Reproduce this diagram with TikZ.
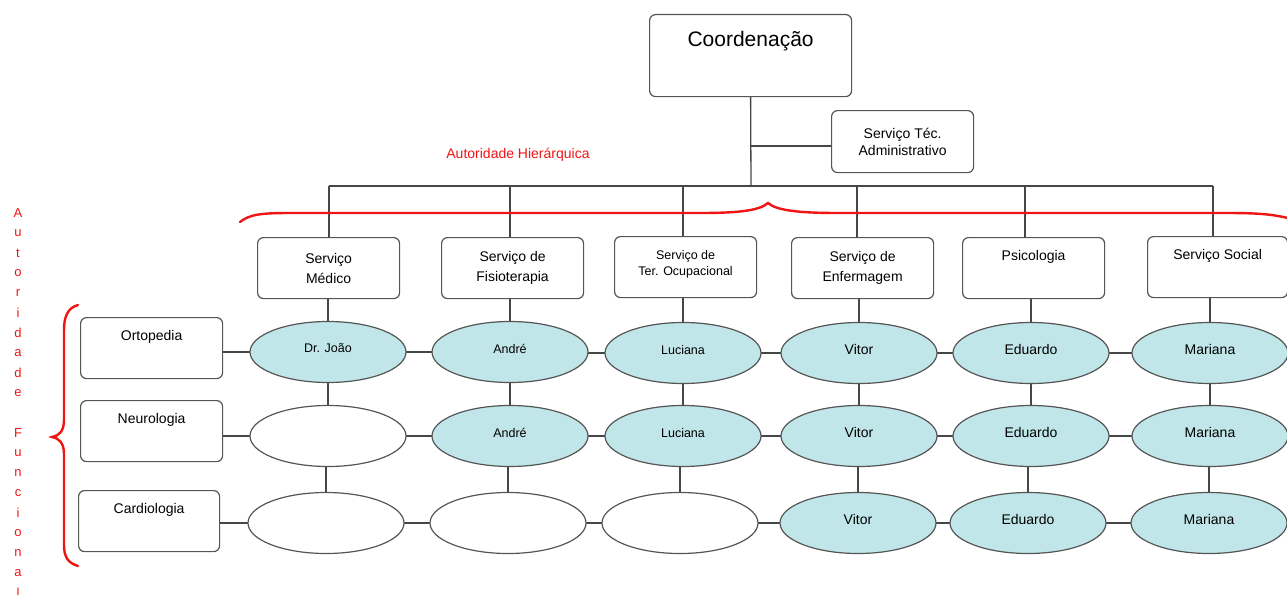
\documentclass[tikz,border=0pt]{standalone}
\usepackage{fontspec}
\setmainfont{Liberation Sans}
\usetikzlibrary{shapes.geometric,backgrounds}
\definecolor{ln}{RGB}{70,70,70}
\definecolor{bx}{RGB}{85,85,85}
\definecolor{cy}{RGB}{192,230,233}
\definecolor{rd}{RGB}{240,20,20}
\tikzset{
  box/.style={draw=bx, line width=1.2pt, rounded corners=6pt, fill=white, minimum width=142pt, minimum height=61pt, inner sep=0pt, align=center, anchor=north west, font=\fontsize{14}{20}\selectfont},
  pers/.style={ellipse, draw=bx, line width=1.2pt, minimum width=156pt, minimum height=61pt, inner sep=0pt, font=\fontsize{12.5}{14}\selectfont},
  on/.style={pers, fill=cy},
  big/.style={font=\fontsize{14}{16}\selectfont},
  off/.style={pers, fill=white},
  conn/.style={draw=ln, line width=1.3pt},
  brace/.style={draw=rd, line width=2.4pt, line cap=round},
  redtxt/.style={text=rd, inner sep=0pt, font=\fontsize{14}{16}\selectfont},
}
\begin{document}
\begin{tikzpicture}[x=1pt,y=-1pt]
\useasboundingbox (0,0) rectangle (1287,594);
\coordinate (tadm) at (751,146);
\coordinate (tbus) at (751,186);
\coordinate (bl) at (329,186);
\coordinate (br) at (1213,186);
% top nodes
\node[box, minimum width=202pt, minimum height=82pt, font=\fontsize{21}{26}\selectfont] (coord) at (649,14) {Coordenação\\\strut};
\node[box, minimum width=142pt, minimum height=62pt, font=\fontsize{14}{17}\selectfont] (adm) at (831,110) {\raisebox{-2pt}{Serviço Téc.}\\\raisebox{-2pt}{Administrativo}};
% service boxes
\node[box] (s1) at (257,237) {Serviço\\Médico};
\node[box] (s2) at (441,237) {Serviço de\\Fisioterapia};
\node[box, font=\fontsize{12.5}{16}\selectfont] (s3) at (614,236) {Serviço de\\Ter. Ocupacional\\[-8pt]\mbox{}};
\node[box] (s4) at (791,237) {Serviço de\\Enfermagem};
\node[box] (s5) at (962,237) {Psicologia\\\strut};
\node[box, minimum width=140pt] (s6) at (1147,236) {Serviço Social\\\strut};
% row boxes
\node[box] (r1) at (80,317) {Ortopedia\\\strut};
\node[box] (r2) at (80,400) {Neurologia\\\strut};
\node[box, minimum width=141pt] (r3) at (78,490) {Cardiologia\\\strut};
% ellipses
\node[on]  (e11) at (328,352) {\raisebox{7pt}{Dr. João}};
\node[on]  (e12) at (510,352) {\raisebox{7pt}{André}};
\node[on]  (e13) at (683,353) {\raisebox{7pt}{Luciana}};
\node[on, big]  (e14) at (859,353) {\raisebox{7pt}{Vitor}};
\node[on, big]  (e15) at (1031,353) {\raisebox{7pt}{Eduardo}};
\node[on, big]  (e16) at (1210,353) {\raisebox{7pt}{Mariana}};
\node[off] (e21) at (328,436) {};
\node[on]  (e22) at (510,436) {\raisebox{7pt}{André}};
\node[on]  (e23) at (683,436) {\raisebox{7pt}{Luciana}};
\node[on, big]  (e24) at (859,436) {\raisebox{7pt}{Vitor}};
\node[on, big]  (e25) at (1031,436) {\raisebox{7pt}{Eduardo}};
\node[on, big]  (e26) at (1210,436) {\raisebox{7pt}{Mariana}};
\node[off] (e31) at (326,523) {};
\node[off] (e32) at (508,523) {};
\node[off] (e33) at (680,523) {};
\node[on, big]  (e34) at (858,523) {\raisebox{7pt}{Vitor}};
\node[on, big]  (e35) at (1028,523) {\raisebox{7pt}{Eduardo}};
\node[on, big]  (e36) at (1209,523) {\raisebox{7pt}{Mariana}};
% connectors
\begin{scope}[on background layer]
\draw[conn] (coord.center |- coord.south) -- (tbus);
\draw[conn] (tadm) -- (adm.west |- tadm);
\draw[conn] (bl) -- (br);
\foreach \s/\x in {s1/329,s2/510,s3/683,s4/857,s5/1025,s6/1213}
  \draw[conn] (\x,186) -- (\x,250);
\foreach \s/\e in {s1/e11,s2/e12,s3/e13,s4/e14,s5/e15,s6/e16}
  \draw[conn] (\s.south -| \e) -- (\e.center);
\foreach \a/\b in {e11/e21,e12/e22,e13/e23,e14/e24,e15/e25,e16/e26,e21/e31,e22/e32,e23/e33,e24/e34,e25/e35,e26/e36}
  \draw[conn] (\b.center |- \a.center) -- (\b.center);
\foreach \a/\b in {r1/e11,e11/e12,e12/e13,e13/e14,e14/e15,e15/e16,r2/e21,e21/e22,e22/e23,e23/e24,e24/e25,e25/e26,r3/e31,e31/e32,e32/e33,e33/e34,e34/e35,e35/e36}
  \draw[conn] (\a.center |- \b.center) -- (\b.center);
\end{scope}
% braces
\draw[brace] (240,222) .. controls (250,214) and (262,213) .. (292,213) -- (700,213) .. controls (742,213) and (760,210) .. (768,203) .. controls (776,210) and (796,213) .. (838,213) -- (1225,213) .. controls (1258,213) and (1272,214) .. (1292,219);
\draw[brace] (78,305) .. controls (67,308) and (64,318) .. (64,330) -- (64,420) .. controls (64,431) and (59,436) .. (52,437) .. controls (59,438) and (64,443) .. (64,454) -- (64,545) .. controls (64,557) and (68,563) .. (78,566);
% red labels
\node[redtxt] (ah) at (518,155) {Autoridade Hierárquica};
\foreach \c [count=\i from 0] in {A,u,t,o,r,i,d,a,d,e,{},F,u,n,c,i,o,n,a,l}
  \node[redtxt, font=\fontsize{13}{15}\selectfont] (af\i) at (18,213+20*\i) {\c};
\end{tikzpicture}
\end{document}
